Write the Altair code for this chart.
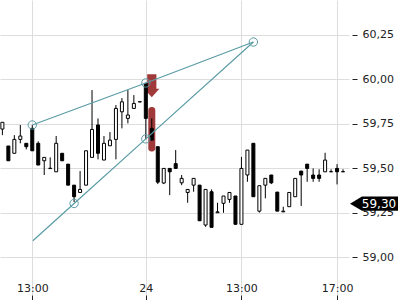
import altair as alt
import pandas as pd

# 15-minute candles, t = candle index counted from 13:00 on day 23
t_index = list(range(-5, 53))
opens = [59.719, 59.624, 59.583, 59.661, 59.639, 59.723, 59.639, 59.541, 59.497, 59.479,
         59.583, 59.522, 59.404, 59.363, 59.404, 59.560, 59.742, 59.545, 59.625, 59.661,
         59.816, 59.779, 59.835, 59.871, 59.976, 59.723, 59.620, 59.416, 59.498, 59.525,
         59.417, 59.363, 59.404, 59.404, 59.180, 59.367, 59.249, 59.302, 59.324, 59.343,
         59.184, 59.461, 59.639, 59.258, 59.404, 59.461, 59.365, 59.254, 59.283, 59.339,
         59.483, 59.522, 59.461, 59.461, 59.479, 59.479, 59.498, 59.479]
highs = [59.757, 59.624, 59.685, 59.742, 59.639, 59.742, 59.650, 59.560, 59.560, 59.680,
         59.583, 59.522, 59.404, 59.483, 59.597, 59.938, 59.779, 59.680, 59.702, 59.854,
         59.893, 59.938, 59.910, 59.873, 59.976, 59.779, 59.620, 59.498, 59.498, 59.601,
         59.461, 59.380, 59.442, 59.404, 59.380, 59.380, 59.305, 59.343, 59.363, 59.343,
         59.563, 59.601, 59.639, 59.401, 59.442, 59.461, 59.365, 59.283, 59.363, 59.442,
         59.483, 59.522, 59.498, 59.493, 59.586, 59.493, 59.522, 59.493]
lows = [59.685, 59.541, 59.583, 59.639, 59.605, 59.597, 59.517, 59.461, 59.497, 59.479,
        59.541, 59.404, 59.309, 59.363, 59.404, 59.560, 59.549, 59.545, 59.625, 59.549,
        59.723, 59.751, 59.835, 59.871, 59.661, 59.657, 59.410, 59.410, 59.348, 59.498,
        59.404, 59.305, 59.367, 59.204, 59.170, 59.167, 59.249, 59.249, 59.305, 59.184,
        59.184, 59.423, 59.339, 59.250, 59.330, 59.410, 59.258, 59.254, 59.283, 59.339,
        59.287, 59.423, 59.423, 59.423, 59.479, 59.479, 59.408, 59.479]
closes = [59.757, 59.541, 59.661, 59.680, 59.620, 59.597, 59.517, 59.560, 59.499, 59.639,
          59.541, 59.404, 59.339, 59.380, 59.597, 59.717, 59.583, 59.639, 59.657, 59.835,
          59.872, 59.798, 59.863, 59.873, 59.779, 59.657, 59.421, 59.498, 59.479, 59.498,
          59.442, 59.380, 59.442, 59.204, 59.380, 59.167, 59.254, 59.343, 59.363, 59.184,
          59.498, 59.601, 59.339, 59.401, 59.442, 59.417, 59.258, 59.258, 59.363, 59.442,
          59.461, 59.498, 59.442, 59.442, 59.545, 59.480, 59.479, 59.480]

# trend lines and their anchor circles
upper_t = [0, 19, 37]
upper_p = [59.742, 59.978, 60.208]
lower_t = [0.1, 7, 19, 37]
lower_p = [59.092, 59.301, 59.664, 60.208]
circle_t = [0, 19, 37, 7, 19]
circle_p = [59.742, 59.978, 60.208, 59.301, 59.664]

# sell signal marker
signal_t = [20]
signal_arrow_p = [59.962]
signal_bar_top = [59.843]
signal_bar_bottom = [59.593]

last_price = [59.30]

x_tick_values = [0, 19, 35, 51]
x_tick_labels = ["13:00", "24", "13:00", "17:00"]
y_tick_values = [59.0, 59.25, 59.5, 59.75, 60.0, 60.25]

x_domain = [-5.4, 53.0]
y_domain = [58.787, 60.444]

TEAL = "#5a9ca5"
RED = "#a03a3a"
FONT = "DejaVu Sans"

candles = pd.DataFrame({"t": t_index, "open": opens, "high": highs,
                        "low": lows, "close": closes})
candles["up"] = candles["close"] >= candles["open"]

upper = pd.DataFrame({"t": upper_t, "p": upper_p, "line": "upper"})
lower = pd.DataFrame({"t": lower_t, "p": lower_p, "line": "lower"})
lines_df = pd.concat([upper, lower], ignore_index=True)
circles_df = pd.DataFrame({"t": circle_t, "p": circle_p})
signal_df = pd.DataFrame({"t": signal_t, "arrow": signal_arrow_p,
                          "top": signal_bar_top, "bottom": signal_bar_bottom})
last_df = pd.DataFrame({"p": last_price})
last_df["label"] = last_df["p"].map(lambda v: f"{v:.2f}".replace(".", ","))

label_expr = ""
for v, lab in zip(x_tick_values, x_tick_labels):
    label_expr += f"datum.value == {v} ? '{lab}' : "
label_expr += "''"

xscale = alt.Scale(domain=x_domain, nice=False, zero=False, padding=0)
yscale = alt.Scale(domain=y_domain, nice=False, zero=False, padding=0)

x_axis = alt.Axis(values=x_tick_values, labelExpr=label_expr, grid=True,
                  gridColor="#dddddd", domain=False, tickSize=5, tickColor="#222222",
                  labelFont=FONT, labelFontSize=11, labelColor="#222222",
                  labelPadding=-9, labelBaseline="alphabetic", title=None,
                  labelOverlap=False)
y_axis = alt.Axis(orient="right", values=y_tick_values,
                  labelExpr="replace(format(datum.value, '.2f'), '.', ',')",
                  grid=True, gridColor="#dddddd", domain=False, tickSize=5,
                  tickColor="#222222", offset=3, labelPadding=5, labelFont=FONT,
                  labelFontSize=11, labelColor="#222222", title=None,
                  labelOverlap=False)

sig_bar = alt.Chart(signal_df).mark_bar(size=7, color=RED, cornerRadius=3).encode(
    x=alt.X("t:Q", scale=xscale, axis=x_axis),
    y=alt.Y("top:Q", scale=yscale, axis=y_axis),
    y2="bottom:Q",
)

arrow_shape = "M-0.4,-1L0.4,-1L0.4,0.25L0.66,0.25L0,1L-0.66,0.25L-0.4,0.25Z"
sig_arrow = alt.Chart(signal_df).mark_point(shape=arrow_shape, size=529, filled=True,
                                            color=RED, opacity=1).encode(
    x=alt.X("t:Q", scale=xscale),
    y=alt.Y("arrow:Q", scale=yscale),
)

wicks = alt.Chart(candles).mark_rule(color="black", strokeWidth=1).encode(
    x=alt.X("t:Q", scale=xscale),
    y=alt.Y("low:Q", scale=yscale),
    y2="high:Q",
)

bodies = alt.Chart(candles).mark_bar(size=3, stroke="black", strokeWidth=1).encode(
    x=alt.X("t:Q", scale=xscale),
    y=alt.Y("open:Q", scale=yscale),
    y2="close:Q",
    fill=alt.condition("datum.up", alt.value("white"), alt.value("black")),
)

trend = alt.Chart(lines_df).mark_line(color=TEAL, strokeWidth=1.2).encode(
    x=alt.X("t:Q", scale=xscale),
    y=alt.Y("p:Q", scale=yscale),
    detail="line:N",
)

circles = alt.Chart(circles_df).mark_point(shape="circle", size=70, color=TEAL,
                                           strokeWidth=1, filled=False, opacity=1).encode(
    x=alt.X("t:Q", scale=xscale),
    y=alt.Y("p:Q", scale=yscale),
)

tag_shape = "M-1,0L-0.5,-0.3L1,-0.3L1,0.3L-0.5,0.3Z"
tag = alt.Chart(last_df).mark_point(shape=tag_shape, size=2304, filled=True,
                                    color="black", opacity=1).encode(
    x=alt.value(374),
    y=alt.Y("p:Q", scale=yscale),
)
tag_text = alt.Chart(last_df).mark_text(color="white", font=FONT, fontSize=12,
                                        align="center", baseline="middle").encode(
    x=alt.value(379),
    y=alt.Y("p:Q", scale=yscale),
    text="label:N",
)

chart = alt.layer(sig_bar, sig_arrow, wicks, bodies, trend, circles, tag, tag_text).properties(
    width=349, height=295, padding=0, background="white"
).configure_view(stroke=None)

chart.save("out.html", embed_options={"renderer": "svg", "actions": False})
